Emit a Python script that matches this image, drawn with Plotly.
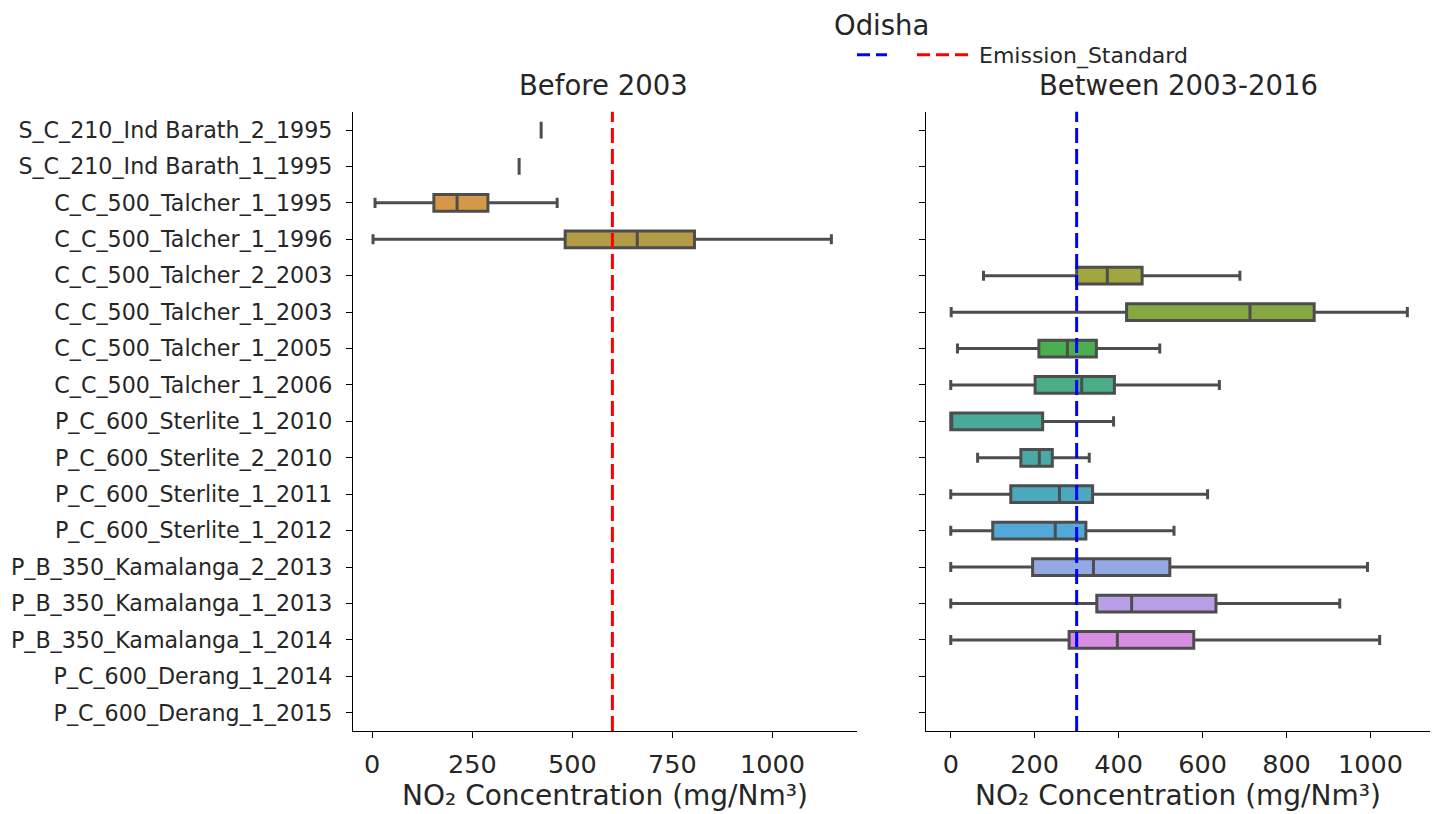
import plotly.graph_objects as go

# ---------------- data ----------------
categories = [
    "S_C_210_Ind Barath_2_1995",
    "S_C_210_Ind Barath_1_1995",
    "C_C_500_Talcher_1_1995",
    "C_C_500_Talcher_1_1996",
    "C_C_500_Talcher_2_2003",
    "C_C_500_Talcher_1_2003",
    "C_C_500_Talcher_1_2005",
    "C_C_500_Talcher_1_2006",
    "P_C_600_Sterlite_1_2010",
    "P_C_600_Sterlite_2_2010",
    "P_C_600_Sterlite_1_2011",
    "P_C_600_Sterlite_1_2012",
    "P_B_350_Kamalanga_2_2013",
    "P_B_350_Kamalanga_1_2013",
    "P_B_350_Kamalanga_1_2014",
    "P_C_600_Derang_1_2014",
    "P_C_600_Derang_1_2015",
]

# Before 2003 panel
before_units = ["S_C_210_Ind Barath_2_1995", "S_C_210_Ind Barath_1_1995",
                "C_C_500_Talcher_1_1995", "C_C_500_Talcher_1_1996"]
before_low = [422, 367, 7, 2]
before_q1 = [422, 367, 154, 482]
before_med = [422, 367, 212, 662]
before_q3 = [422, 367, 289, 805]
before_high = [422, 367, 462, 1147]
before_colors = ["#d98c8f", "#d6917a", "#d59848", "#b39c45"]

# Between 2003-2016 panel
between_units = ["C_C_500_Talcher_2_2003", "C_C_500_Talcher_1_2003", "C_C_500_Talcher_1_2005",
                 "C_C_500_Talcher_1_2006", "P_C_600_Sterlite_1_2010", "P_C_600_Sterlite_2_2010",
                 "P_C_600_Sterlite_1_2011", "P_C_600_Sterlite_1_2012", "P_B_350_Kamalanga_2_2013",
                 "P_B_350_Kamalanga_1_2013", "P_B_350_Kamalanga_1_2014"]
between_low = [78, 1, 16, 0, 0, 64, 0, 0, 0, 0, 0]
between_q1 = [300, 419, 210, 201, 0, 167, 143, 100, 195, 348, 282]
between_med = [373, 713, 278, 312, 0, 211, 259, 249, 340, 431, 397]
between_q3 = [456, 866, 347, 390, 219, 242, 338, 322, 522, 632, 579]
between_high = [689, 1088, 498, 640, 388, 330, 612, 532, 993, 927, 1022]
between_colors = ["#a2a63e", "#85a843", "#4bae4f", "#4aad88", "#48ab99", "#49a9a8",
                  "#4aa9bd", "#52a8d6", "#93a9e6", "#b89fe6", "#d78ee2"]

standard_before = 600
standard_between = 300

title_text = "Odisha"
panel_titles = ["Before 2003", "Between 2003-2016"]
x_title = "NO₂ Concentration (mg/Nm³)"
legend_label = "Emission_Standard"

# ---------------- styling ----------------
FONT = "DejaVu Sans"
EDGE = "#4d4d4d"
TXT = "#262626"
W, H = 1440, 814
OFF = 8  # default page body margin

def px_x(p):
    return (p - OFF) / W

def px_y(p):
    return 1 - (p - OFF) / H

fig = go.Figure()

def add_boxes(units, lo, q1, med, q3, hi, colors, xa, ya):
    for u, a, b, c, d, e, col in zip(units, lo, q1, med, q3, hi, colors):
        fig.add_trace(go.Box(
            y=[u], q1=[b], median=[c], q3=[d], lowerfence=[a], upperfence=[e],
            orientation="h", fillcolor=col, line=dict(color=EDGE, width=3),
            width=0.46, whiskerwidth=0.6, boxpoints=False, showlegend=False,
            xaxis=xa, yaxis=ya, hoverinfo="skip",
        ))

add_boxes(before_units, before_low, before_q1, before_med, before_q3, before_high,
          before_colors, "x", "y")
add_boxes(between_units, between_low, between_q1, between_med, between_q3, between_high,
          between_colors, "x2", "y2")

# emission standard lines
fig.add_shape(type="line", xref="x", yref="y domain", x0=standard_before, x1=standard_before,
              y0=0, y1=1, line=dict(color="red", width=3, dash="15px,6px"))
fig.add_shape(type="line", xref="x2", yref="y2 domain", x0=standard_between, x1=standard_between,
              y0=0, y1=1, line=dict(color="blue", width=3, dash="15px,6px"))

# legend entries
fig.add_trace(go.Scatter(x=[None], y=[None], mode="lines", name="", legend="legend",
                         line=dict(color="blue", width=3, dash="13px,6px"), xaxis="x2", yaxis="y2"))
fig.add_trace(go.Scatter(x=[None], y=[None], mode="lines", name=legend_label, legend="legend2",
                         line=dict(color="red", width=3, dash="13px,6px"), xaxis="x2", yaxis="y2"))

ydom = [px_y(731), px_y(111.8)]
axis_common = dict(showline=True, linecolor="black", linewidth=1.3, ticks="outside",
                   ticklen=6, tickwidth=1.3, tickcolor="black", showgrid=False, zeroline=False,
                   mirror=False, automargin=False)

leg_common = dict(orientation="h", xanchor="left", yanchor="middle",
                  font=dict(size=22, color=TXT), bgcolor="rgba(0,0,0,0)")

fig.update_layout(
    width=W, height=H, plot_bgcolor="white", paper_bgcolor="white",
    margin=dict(l=0, r=0, t=0, b=0),
    font=dict(family=FONT, color=TXT),
    boxmode="overlay",
    xaxis=dict(domain=[px_x(353), px_x(857)], range=[-48, 1211], tickvals=[0, 250, 500, 750, 1000],
               tickfont=dict(size=25.5, color=TXT), anchor="y", ticklabelstandoff=4,
               title=dict(text=x_title, font=dict(size=28, color=TXT), standoff=6),
               **axis_common),
    xaxis2=dict(domain=[px_x(926), px_x(1430)], range=[-59, 1142],
                tickvals=[0, 200, 400, 600, 800, 1000], ticklabelstandoff=4,
                tickfont=dict(size=25.5, color=TXT), anchor="y2",
                title=dict(text=x_title, font=dict(size=28, color=TXT), standoff=6),
                **axis_common),
    yaxis=dict(domain=ydom, type="category", categoryorder="array", categoryarray=categories,
               range=[len(categories) - 0.5, -0.5], tickfont=dict(size=22.2, color=TXT),
               ticklabelstandoff=9, anchor="x", **axis_common),
    yaxis2=dict(domain=ydom, type="category", categoryorder="array", categoryarray=categories,
                range=[len(categories) - 0.5, -0.5], showticklabels=False, anchor="x2",
                matches="y", **axis_common),
    legend=dict(x=px_x(852), y=px_y(55), **leg_common),
    legend2=dict(x=px_x(912), y=px_y(55), itemwidth=57, **leg_common),
    showlegend=True,
    annotations=[
        dict(text=title_text, x=px_x(882), y=1.0, xref="paper", yref="paper", borderpad=0,
             showarrow=False, font=dict(size=27.5, color=TXT), xanchor="center", yanchor="top"),
        dict(text=panel_titles[0], x=px_x(603), y=px_y(85), xref="paper", yref="paper",
             showarrow=False, font=dict(size=27.5, color=TXT), xanchor="center", yanchor="middle"),
        dict(text=panel_titles[1], x=px_x(1178), y=px_y(85), xref="paper", yref="paper",
             showarrow=False, font=dict(size=27.5, color=TXT), xanchor="center", yanchor="middle"),
    ],
)

fig.write_html("out.html")
